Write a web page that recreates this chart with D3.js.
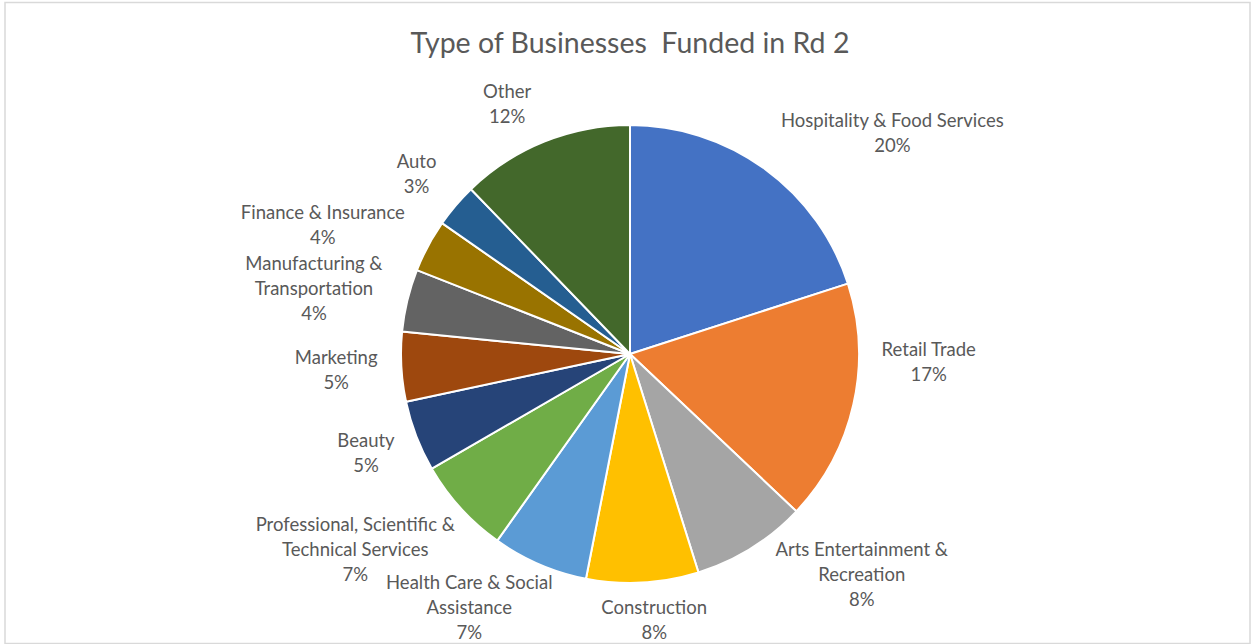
<!DOCTYPE html>
<html>
<head>
<meta charset="utf-8">
<script src="https://cdn.jsdelivr.net/npm/d3@7"></script>
<style>
body{margin:0;background:#fff}
text{font-family:Lato,"Open Sans",sans-serif;fill:#595959}
</style>
</head>
<body>
<div id="chart"></div>
<script>
// data (share of businesses, %)
var categories = ["Hospitality & Food Services","Retail Trade","Arts Entertainment &\nRecreation","Construction",
	"Health Care & Social\nAssistance","Professional, Scientific &\nTechnical Services","Beauty","Marketing",
	"Manufacturing &\nTransportation","Finance & Insurance","Auto","Other"]
var values = [20.0,17.0,8.1,7.9,6.75,6.8,5.0,4.9,4.4,3.7,3.1,12.2]
var colors = ["#4472C4","#ED7D31","#A5A5A5","#FFC000","#5B9BD5","#70AD47","#264478","#9E480E","#636363","#997300","#255E91","#43682B"]
var title = "Type of Businesses  Funded in Rd 2"

// where excel put each label (angle in degrees from 12 o'clock, distance as a multiple of the radius)
var labelAngle = [49.8,91.5,133.5,174.8,212.4,234.7,249.6,266.9,281.8,292.8,310.2,333.9]
var labelDist = [1.50,1.305,1.395,1.165,1.31,1.47,1.23,1.285,1.41,1.455,1.22,1.22]

var width = 1252
var height = 644
var cx = 630, cy = 354
var radius = 229
var lineH = 25

var svg = d3.select("#chart").append("svg")
	.attr("width",width)
	.attr("height",height)

// chart area frame
svg.append("rect").attr("x",5).attr("y",2.5).attr("width",1245).attr("height",641)
	.attr("fill","none").attr("stroke","#d9d9d9").attr("stroke-width",1.5)

svg.append("text").text(title)
	.attr("x",630).attr("y",42)
	.attr("text-anchor","middle").attr("dominant-baseline","central")
	.style("font-size","28.5px")
	.style("white-space","pre")

var total = d3.sum(values)
var pie = d3.pie().sort(null).value(function(d){return d})
var arcs = pie(values)
var arc = d3.arc().innerRadius(0).outerRadius(radius)

var g = svg.append("g").attr("transform","translate("+cx+","+cy+")")

g.selectAll(".slice")
	.data(arcs)
	.enter()
	.append("path")
	.attr("class","slice")
	.attr("d",arc)
	.attr("fill",function(d,i){return colors[i]})
	.attr("stroke","#fff")
	.attr("stroke-width",2)
	.attr("stroke-linejoin","round")

var labels = g.selectAll(".lbl")
	.data(arcs)
	.enter()
	.append("text")
	.attr("class","lbl")
	.attr("text-anchor","middle")
	.style("font-size","18.5px")
	.attr("transform",function(d,i){
		var a = labelAngle[i]*Math.PI/180
		var r = radius*labelDist[i]
		return "translate("+(r*Math.sin(a))+","+(-r*Math.cos(a))+")"
	})

labels.each(function(d,i){
	var lines = categories[i].split("\n")
	lines.push(Math.round(d.value/total*100)+"%")
	var t = d3.select(this)
	var y0 = -(lines.length-1)*lineH/2
	lines.forEach(function(l,j){
		t.append("tspan").attr("x",0).attr("y",y0+j*lineH)
			.attr("dominant-baseline","central").text(l)
	})
})
</script>
</body>
</html>
